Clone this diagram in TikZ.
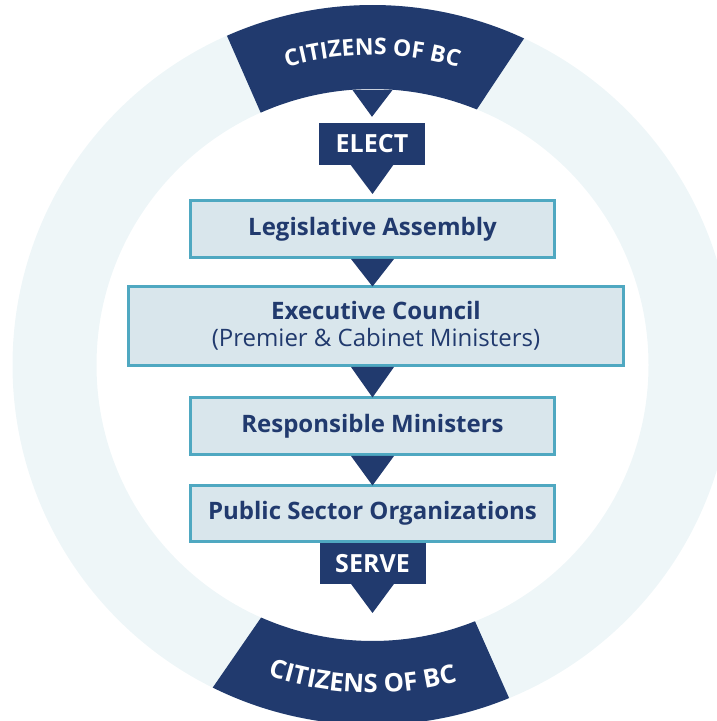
\documentclass[tikz,border=0pt]{standalone}
\usepackage{fontspec}
\setmainfont{Open Sans}
\usetikzlibrary{calc,decorations.text}
\definecolor{navy}{HTML}{213A6E}
\definecolor{boxline}{HTML}{4FA8C1}
\definecolor{boxfill}{HTML}{D9E6EC}
\definecolor{ringc}{HTML}{EEF6F8}
\begin{document}
\begin{tikzpicture}[x=1pt,y=1pt,
  stage/.style={draw=boxline, line width=3pt, fill=boxfill, text=navy,
    font=\fontsize{24}{27}\selectfont\bfseries, inner sep=0pt, align=center,
    minimum width=364, minimum height=57},
  tag/.style={fill=navy, text=white, font=\fontsize{25}{26}\selectfont\bfseries,
    inner sep=0pt, minimum width=106, minimum height=42},
  pointer/.style={fill=navy},
  banner/.style={fill=navy},
  arctext/.style={decorate, decoration={text along path, text align=center,
    text={|\fontsize{#1}{#1}\selectfont\bfseries\color{white}|CITIZENS OF BC}}}]
\useasboundingbox (0,0) rectangle (717,721);
\clip (0,0) rectangle (717,721);
\coordinate (c) at (372.5,356);
% ring
\fill[ringc, even odd rule] (c) circle (360) (c) circle (276);
% banners
\fill[banner] ($(c)+(113.85:360)$) arc[start angle=113.85, end angle=65.1, radius=360]
  -- ($(c)+(67.8:276)$) arc[start angle=67.8, end angle=113.9, radius=276] -- cycle;
\fill[banner] ($(c)+(243.65:360)$) arc[start angle=243.65, end angle=292.3, radius=360]
  -- ($(c)+(291.8:276)$) arc[start angle=291.8, end angle=246.2, radius=276] -- cycle;
\path[arctext=23] ($(c)+(140:310)$) arc[start angle=140, end angle=40, radius=310];
\path[arctext=25.5] ($(c)+(218.2:328)$) arc[start angle=218.2, end angle=318.2, radius=328];
\coordinate (toptip) at (372.5,631);
% nodes
\node[stage] (la) at (372.5,492) {Legislative Assembly};
\node[stage, minimum width=495, minimum height=79] (ec) at (376,395)
  {Executive Council\\{\mdseries (Premier \& Cabinet Ministers)}};
\node[stage] (rm) at (372.5,295) {Responsible Ministers};
\node[stage, minimum height=56] (pso) at (372.5,207.5) {Public Sector Organizations};
\node[tag] (elect) at (372,577) {ELECT};
\node[tag, minimum height=41, anchor=north] (serve) at (pso.south) {SERVE};
\coordinate (bottip) at (372.5,108);
% pointers
\fill[pointer] ($(toptip)+(-20,0)$) -- ($(toptip)+(20,0)$) -- ($(elect.north)+(0,6)$) -- cycle;
\fill[pointer] ($(elect.south)+(-21.5,0.5)$) -- ($(elect.south)+(21.5,0.5)$) -- ($(la.north)+(0,5)$) -- cycle;
\fill[pointer] ($(la.south)+(-21.5,0)$) -- ($(la.south)+(21.5,0)$) -- ($(la.south |- ec.north)+(0,-1.5)$) -- cycle;
\fill[pointer] ($(rm.north |- ec.south)+(-21.5,0)$) -- ($(rm.north |- ec.south)+(21.5,0)$) -- ($(rm.north)+(0,-1.5)$) -- cycle;
\fill[pointer] ($(rm.south)+(-21.5,0)$) -- ($(rm.south)+(21.5,0)$) -- ($(pso.north)+(0,-1.5)$) -- cycle;
\fill[pointer] ($(serve.south)+(-21.5,0.5)$) -- ($(serve.south)+(21.5,0.5)$) -- (bottip) -- cycle;
\end{tikzpicture}
\end{document}
